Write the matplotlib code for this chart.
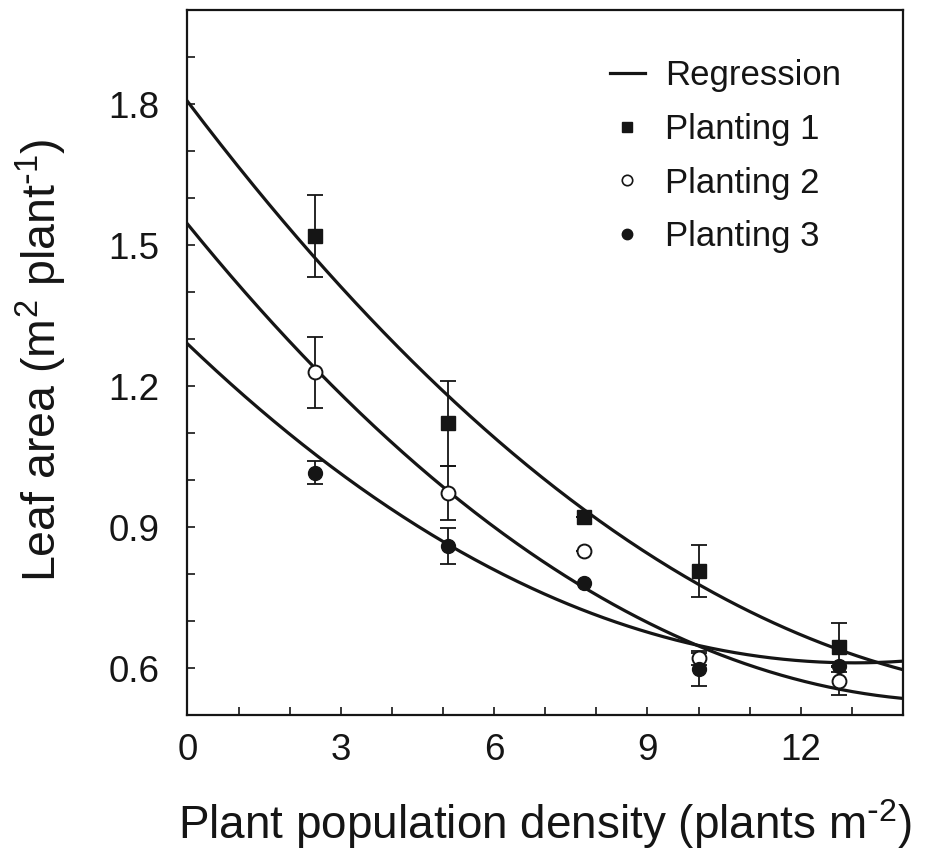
import numpy as np
import matplotlib
matplotlib.use('Agg')
import matplotlib.pyplot as plt
from matplotlib.lines import Line2D
from matplotlib.ticker import MultipleLocator

plt.rcParams['font.family'] = ['Liberation Sans', 'DejaVu Sans']
plt.rcParams['mathtext.default'] = 'regular'

# plant population density (plants m-2)
density = [2.5, 5.1, 7.75, 10.0, 12.75]

# leaf area per plant (m2), mean and error bar half-width for each planting
p1 = [1.52, 1.121, 0.921, 0.807, 0.644]
p1_err = [0.087, 0.09, 0.0, 0.055, 0.052]
p2 = [1.229, 0.973, 0.849, 0.622, 0.572]
p2_err = [0.076, 0.057, 0.0, 0.015, 0.03]
p3 = [1.016, 0.86, 0.78, 0.597, 0.604]
p3_err = [0.025, 0.038, 0.0, 0.036, 0.0]

# quadratic regressions: a + b*x + c*x^2
fit1 = [1.806, -0.1438, 0.0041]
fit2 = [1.545, -0.134, 0.00442]
fit3 = [1.29, -0.1041, 0.00399]

ink = '#151515'

fig = plt.figure(figsize=(9.29, 8.51), dpi=100)
ax = fig.add_axes([0.2018, 0.1598, 0.7702, 0.8282])

xs = np.linspace(0, 14, 300)
for a, b, c in (fit1, fit2, fit3):
    ax.plot(xs, a + b * xs + c * xs ** 2, color=ink, lw=2.3, zorder=2)

for vals, err in ((p1, p1_err), (p2, p2_err), (p3, p3_err)):
    ax.errorbar(density, vals, yerr=err, fmt='none', ecolor=ink,
                elinewidth=1.3, capsize=5.5, capthick=1.3, zorder=3)

ax.plot(density, p1, 's', ms=9.5, color=ink, zorder=4)
ax.plot(density, p2, 'o', ms=10, mfc='white', mec=ink, mew=1.4, zorder=4)
ax.plot(density, p3, 'o', ms=10, color=ink, zorder=4)

ax.set_xlim(0, 14)
ax.set_ylim(0.5, 2.0)
ax.xaxis.set_major_locator(MultipleLocator(3))
ax.xaxis.set_minor_locator(MultipleLocator(1))
ax.yaxis.set_major_locator(MultipleLocator(0.3))
ax.yaxis.set_minor_locator(MultipleLocator(0.1))
ax.tick_params(which='both', direction='in', length=6, width=1.2, color=ink)
ax.tick_params(axis='x', labelsize=26.5, pad=13, labelcolor=ink)
ax.tick_params(axis='y', labelsize=26.5, pad=20, labelcolor=ink)
for s in ax.spines.values():
    s.set_linewidth(1.6)
    s.set_color(ink)

ax.set_xlabel(r'Plant population density (plants m$^{\text{-}2}$)', fontsize=33, color=ink)
ax.set_ylabel(r'Leaf area (m$^{2}$ plant$^{\text{-}1}$)', fontsize=33.5, color=ink)
ax.xaxis.set_label_coords(0.5, -0.117)
ax.yaxis.set_label_coords(-0.165, 0.503)

handles = [
    Line2D([], [], color=ink, lw=2.3),
    Line2D([], [], ls='none', marker='s', ms=7, color=ink),
    Line2D([], [], ls='none', marker='o', ms=7.5, mfc='white', mec=ink, mew=1.2),
    Line2D([], [], ls='none', marker='o', ms=7.5, color=ink),
]
labels = ['Regression', 'Planting 1', 'Planting 2', 'Planting 3']
ax.legend(handles, labels, loc='upper left', bbox_to_anchor=(0.5905, 0.931),
          frameon=False, fontsize=25, handlelength=1.0, handletextpad=0.58,
          labelspacing=0.6, borderpad=0, borderaxespad=0, labelcolor=ink)

fig.savefig('out.png', dpi=100)
